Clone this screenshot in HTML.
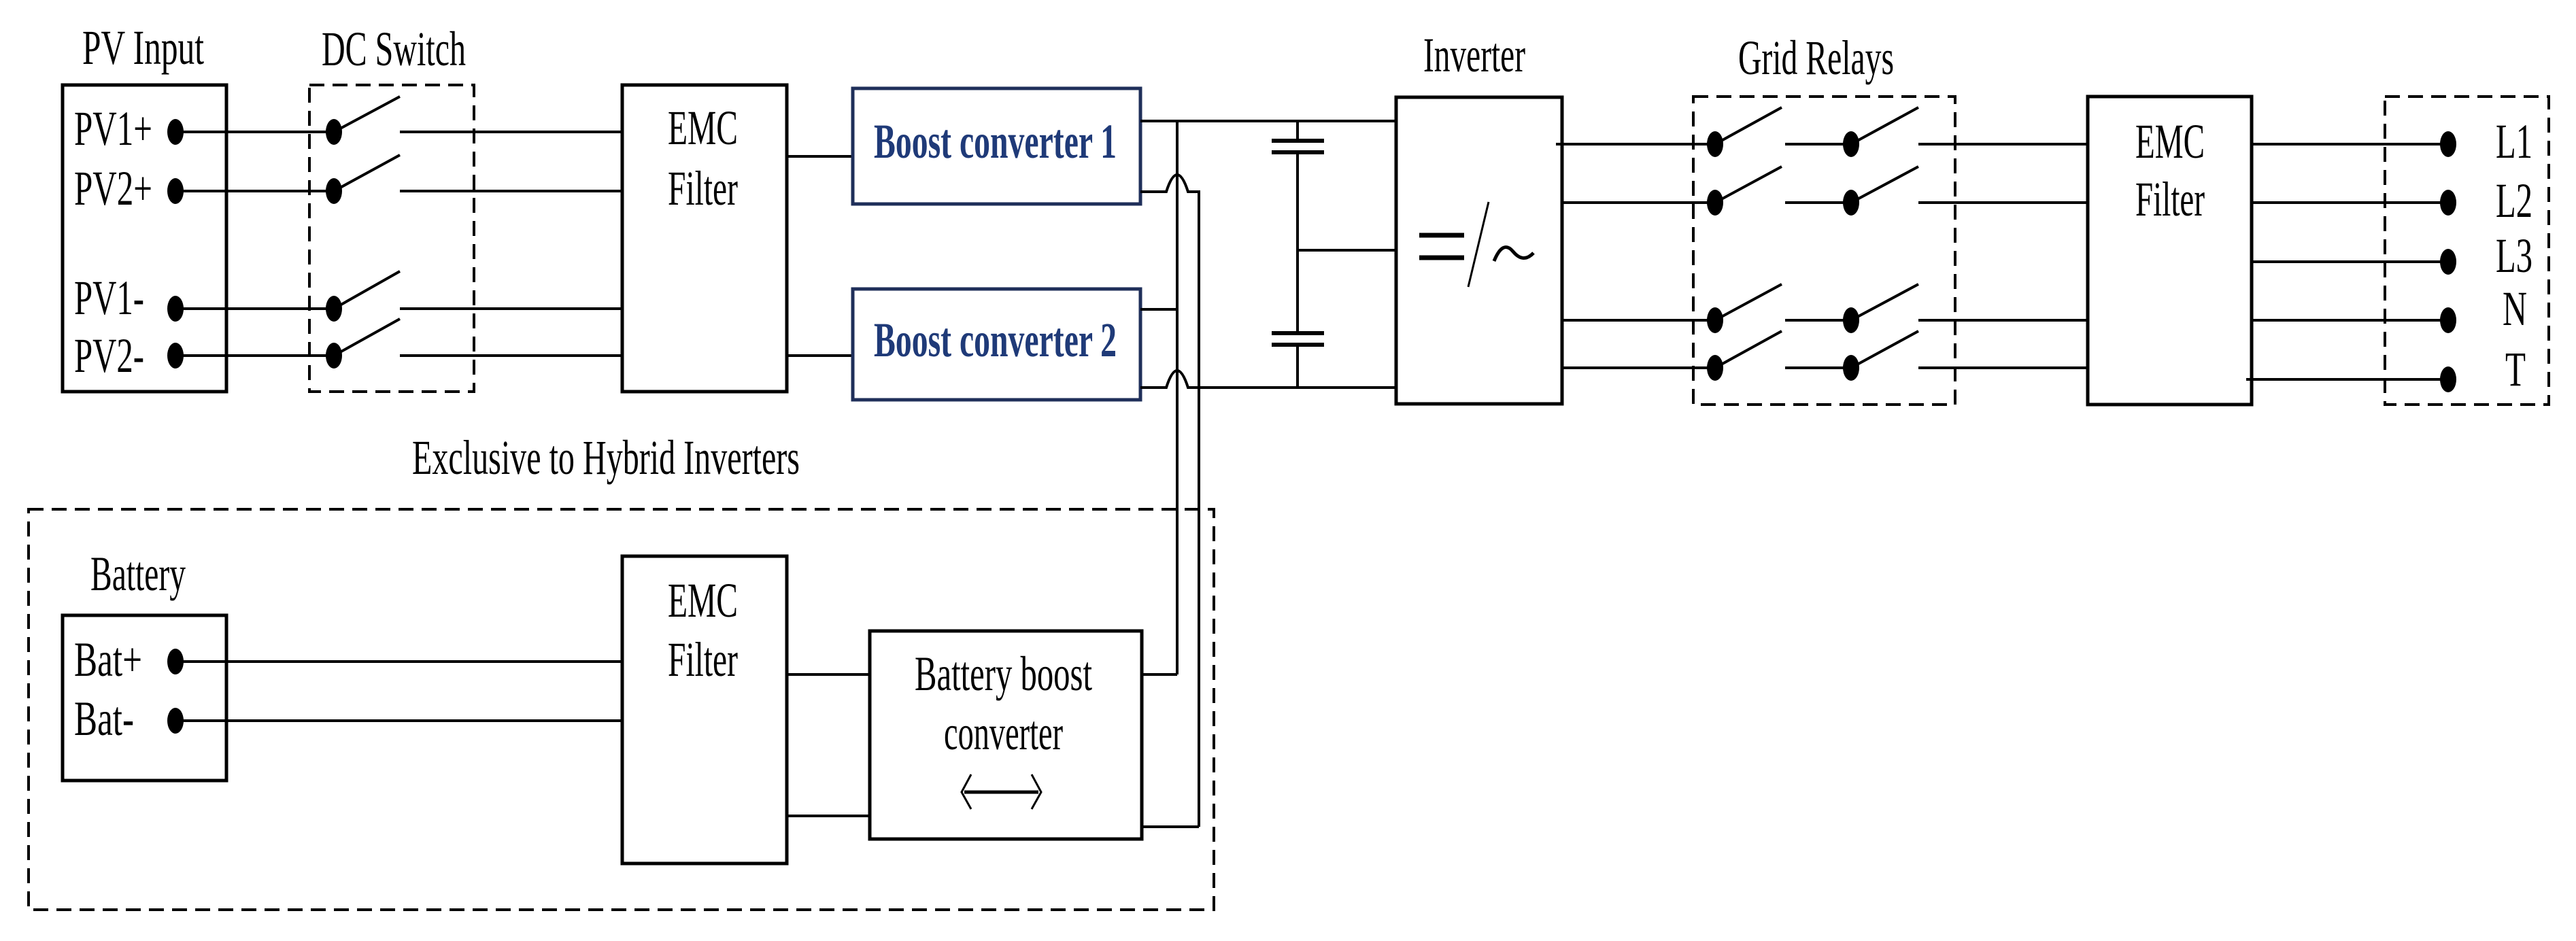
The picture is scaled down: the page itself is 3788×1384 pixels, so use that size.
<!DOCTYPE html>
<html><head><meta charset="utf-8"><style>
html,body{margin:0;padding:0;background:#fff;}
svg{display:block;}
text{font-family:"Liberation Serif",serif;fill:#000;}
</style></head><body>
<svg width="3788" height="1384" viewBox="0 0 3788 1384" xmlns="http://www.w3.org/2000/svg">
<g fill="none" stroke="#000" stroke-width="4">
<!-- PV input box -->
<rect x="92" y="125" width="241" height="451" stroke-width="5"/>
<!-- DC switch dashed -->
<rect x="455" y="125" width="242" height="451" stroke-dasharray="22 12"/>
<!-- EMC filter 1 -->
<rect x="915" y="125" width="242" height="451" stroke-width="5"/>
<!-- PV lines and switches -->
<path d="M258 194H491 M491 194L588 142 M588 194H915"/>
<path d="M258 281H491 M491 281L588 228 M588 281H915"/>
<path d="M258 454H491 M491 454L588 399 M588 454H915"/>
<path d="M258 523H491 M491 523L588 469 M588 523H915"/>
<!-- EMC to boost -->
<path d="M1157 230H1254 M1157 523H1254"/>
<!-- Boost converters -->
<rect x="1254" y="130" width="423" height="170" stroke="#1f2f5a" stroke-width="5"/>
<rect x="1254" y="425" width="423" height="163" stroke="#1f2f5a" stroke-width="5"/>
<!-- DC bus -->
<path d="M1677 178H2053"/>
<path d="M1677 282H1715 Q1731 232 1747 282 H1763 V1216"/>
<path d="M1677 455H1731"/>
<path d="M1677 570H1715 Q1731 520 1747 570 H2053"/>
<path d="M1731 178V992"/>
<!-- capacitors -->
<path d="M1908 178V207 M1908 224V490 M1908 507V570 M1908 368H2053"/>
<path d="M1870 207H1947 M1870 224H1947 M1870 490H1947 M1870 507H1947" stroke-width="6"/>
<!-- inverter -->
<rect x="2053" y="143" width="244" height="451" stroke-width="5"/>
<path d="M2189 297L2159 422" stroke-width="3"/>
<path d="M2087 346H2153 M2087 379H2153" stroke-width="7"/>
<path d="M2197 384 Q2210 352 2225 370 T2255 372" stroke-width="5"/>
<!-- grid relays -->
<rect x="2490" y="142" width="385" height="453" stroke-dasharray="22 12"/>
<path d="M2288 212H2522 M2522 212L2620 158 M2625 212H2722 M2722 212L2821 158 M2821 212H3070"/>
<path d="M2297 298H2522 M2522 298L2620 245 M2625 298H2722 M2722 298L2821 245 M2821 298H3070"/>
<path d="M2297 471H2522 M2522 471L2620 418 M2625 471H2722 M2722 471L2821 418 M2821 471H3070"/>
<path d="M2297 541H2522 M2522 541L2620 487 M2625 541H2722 M2722 541L2821 487 M2821 541H3070"/>
<!-- EMC 3 -->
<rect x="3070" y="142" width="241" height="453" stroke-width="5"/>
<path d="M3311 212H3600 M3311 298H3600 M3311 385H3600 M3311 471H3600 M3303 558H3600"/>
<rect x="3507" y="142" width="241" height="453" stroke-dasharray="22 12"/>
<!-- hybrid dashed box -->
<rect x="42" y="749" width="1743" height="589" stroke-dasharray="22 12"/>
<rect x="92" y="905" width="241" height="243" stroke-width="5"/>
<rect x="915" y="818" width="242" height="452" stroke-width="5"/>
<rect x="1279" y="928" width="400" height="306" stroke-width="5"/>
<path d="M258 973H915 M258 1060H915"/>
<path d="M1157 992H1279 M1157 1200H1279"/>
<path d="M1679 992H1731 M1679 1216H1763"/>
<!-- bidirectional arrow -->
<path d="M1418 1165H1527" stroke-width="5"/>
<path d="M1428 1139L1414 1165L1428 1190 M1517 1139L1531 1165L1517 1190" stroke-width="3"/>
</g>
<!-- dots -->
<g fill="#000">
<ellipse cx="258" cy="194" rx="12" ry="19"/><ellipse cx="258" cy="281" rx="12" ry="19"/>
<ellipse cx="258" cy="454" rx="12" ry="19"/><ellipse cx="258" cy="523" rx="12" ry="19"/>
<ellipse cx="491" cy="194" rx="12" ry="19"/><ellipse cx="491" cy="281" rx="12" ry="19"/>
<ellipse cx="491" cy="454" rx="12" ry="19"/><ellipse cx="491" cy="523" rx="12" ry="19"/>
<ellipse cx="258" cy="973" rx="12" ry="19"/><ellipse cx="258" cy="1060" rx="12" ry="19"/>
<ellipse cx="2522" cy="212" rx="12" ry="19"/><ellipse cx="2722" cy="212" rx="12" ry="19"/>
<ellipse cx="2522" cy="298" rx="12" ry="19"/><ellipse cx="2722" cy="298" rx="12" ry="19"/>
<ellipse cx="2522" cy="471" rx="12" ry="19"/><ellipse cx="2722" cy="471" rx="12" ry="19"/>
<ellipse cx="2522" cy="541" rx="12" ry="19"/><ellipse cx="2722" cy="541" rx="12" ry="19"/>
<ellipse cx="3600" cy="212" rx="12" ry="19"/><ellipse cx="3600" cy="298" rx="12" ry="19"/>
<ellipse cx="3600" cy="385" rx="12" ry="19"/><ellipse cx="3600" cy="471" rx="12" ry="19"/>
<ellipse cx="3600" cy="558" rx="12" ry="19"/>
</g>
<!-- text -->
<g font-size="72" lengthAdjust="spacingAndGlyphs">
<text x="121" y="94" textLength="179" lengthAdjust="spacingAndGlyphs">PV Input</text>
<text x="473" y="96" textLength="212" lengthAdjust="spacingAndGlyphs">DC Switch</text>
<text x="109" y="213" textLength="115" lengthAdjust="spacingAndGlyphs">PV1+</text>
<text x="109" y="301" textLength="115" lengthAdjust="spacingAndGlyphs">PV2+</text>
<text x="109" y="462" textLength="103" lengthAdjust="spacingAndGlyphs">PV1-</text>
<text x="109" y="547" textLength="103" lengthAdjust="spacingAndGlyphs">PV2-</text>
<text x="982" y="212" textLength="103" lengthAdjust="spacingAndGlyphs">EMC</text>
<text x="982" y="301" textLength="103" lengthAdjust="spacingAndGlyphs">Filter</text>
<text x="1285" y="232" textLength="357" lengthAdjust="spacingAndGlyphs" font-weight="bold" style="fill:#1f3a78">Boost converter 1</text>
<text x="1285" y="524" textLength="357" lengthAdjust="spacingAndGlyphs" font-weight="bold" style="fill:#1f3a78">Boost converter 2</text>
<text x="606" y="697" textLength="570" lengthAdjust="spacingAndGlyphs">Exclusive to Hybrid Inverters</text>
<text x="133" y="868" textLength="140" lengthAdjust="spacingAndGlyphs">Battery</text>
<text x="109" y="994" textLength="100" lengthAdjust="spacingAndGlyphs">Bat+</text>
<text x="109" y="1081" textLength="88" lengthAdjust="spacingAndGlyphs">Bat-</text>
<text x="982" y="907" textLength="103" lengthAdjust="spacingAndGlyphs">EMC</text>
<text x="982" y="994" textLength="103" lengthAdjust="spacingAndGlyphs">Filter</text>
<text x="1345" y="1015" textLength="261" lengthAdjust="spacingAndGlyphs">Battery boost</text>
<text x="1388" y="1102" textLength="175" lengthAdjust="spacingAndGlyphs">converter</text>
<text x="2093" y="105" textLength="150" lengthAdjust="spacingAndGlyphs">Inverter</text>
<text x="2556" y="109" textLength="229" lengthAdjust="spacingAndGlyphs">Grid Relays</text>
<text x="3140" y="232" textLength="102" lengthAdjust="spacingAndGlyphs">EMC</text>
<text x="3140" y="317" textLength="102" lengthAdjust="spacingAndGlyphs">Filter</text>
<text x="3670" y="232" textLength="54" lengthAdjust="spacingAndGlyphs">L1</text>
<text x="3670" y="319" textLength="54" lengthAdjust="spacingAndGlyphs">L2</text>
<text x="3670" y="400" textLength="54" lengthAdjust="spacingAndGlyphs">L3</text>
<text x="3680" y="478" textLength="36" lengthAdjust="spacingAndGlyphs">N</text>
<text x="3684" y="567" textLength="30" lengthAdjust="spacingAndGlyphs">T</text>
</g>
</svg>
</body></html>
